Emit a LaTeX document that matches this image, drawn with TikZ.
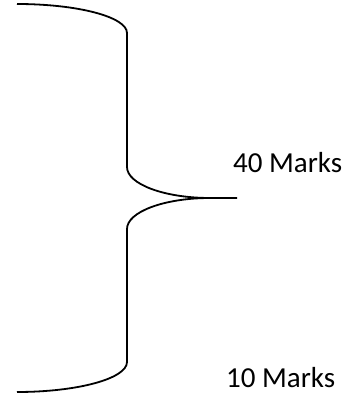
\documentclass[tikz,border=0pt]{standalone}
\usepackage{fontspec}
\setmainfont{Carlito}
\usetikzlibrary{positioning}

\begin{document}
\begin{tikzpicture}[
    x=1pt, y=1pt,
    brace/.style={draw, line width=1.8pt, line join=round},
    marklabel/.style={inner sep=0pt, font=\fontsize{29}{34}\selectfont}
]
\useasboundingbox (0,0) rectangle (350,394);

\coordinate (tip) at (237,196);
\draw[brace] (17,390) arc[start angle=90, end angle=0, x radius=110pt, y radius=29pt]
    -- (127,227) arc[start angle=180, end angle=270, x radius=83pt, y radius=31pt]
    -- (tip);
\draw[brace] (210,196) arc[start angle=90, end angle=180, x radius=83pt, y radius=31pt]
    -- (127,32) arc[start angle=0, end angle=-90, x radius=110pt, y radius=30pt];

\node[marklabel, anchor=base west] (upper) at (233,221) {40 Marks};
\node[marklabel, anchor=base west] (lower) at (226,6) {10 Marks};

\end{tikzpicture}
\end{document}
